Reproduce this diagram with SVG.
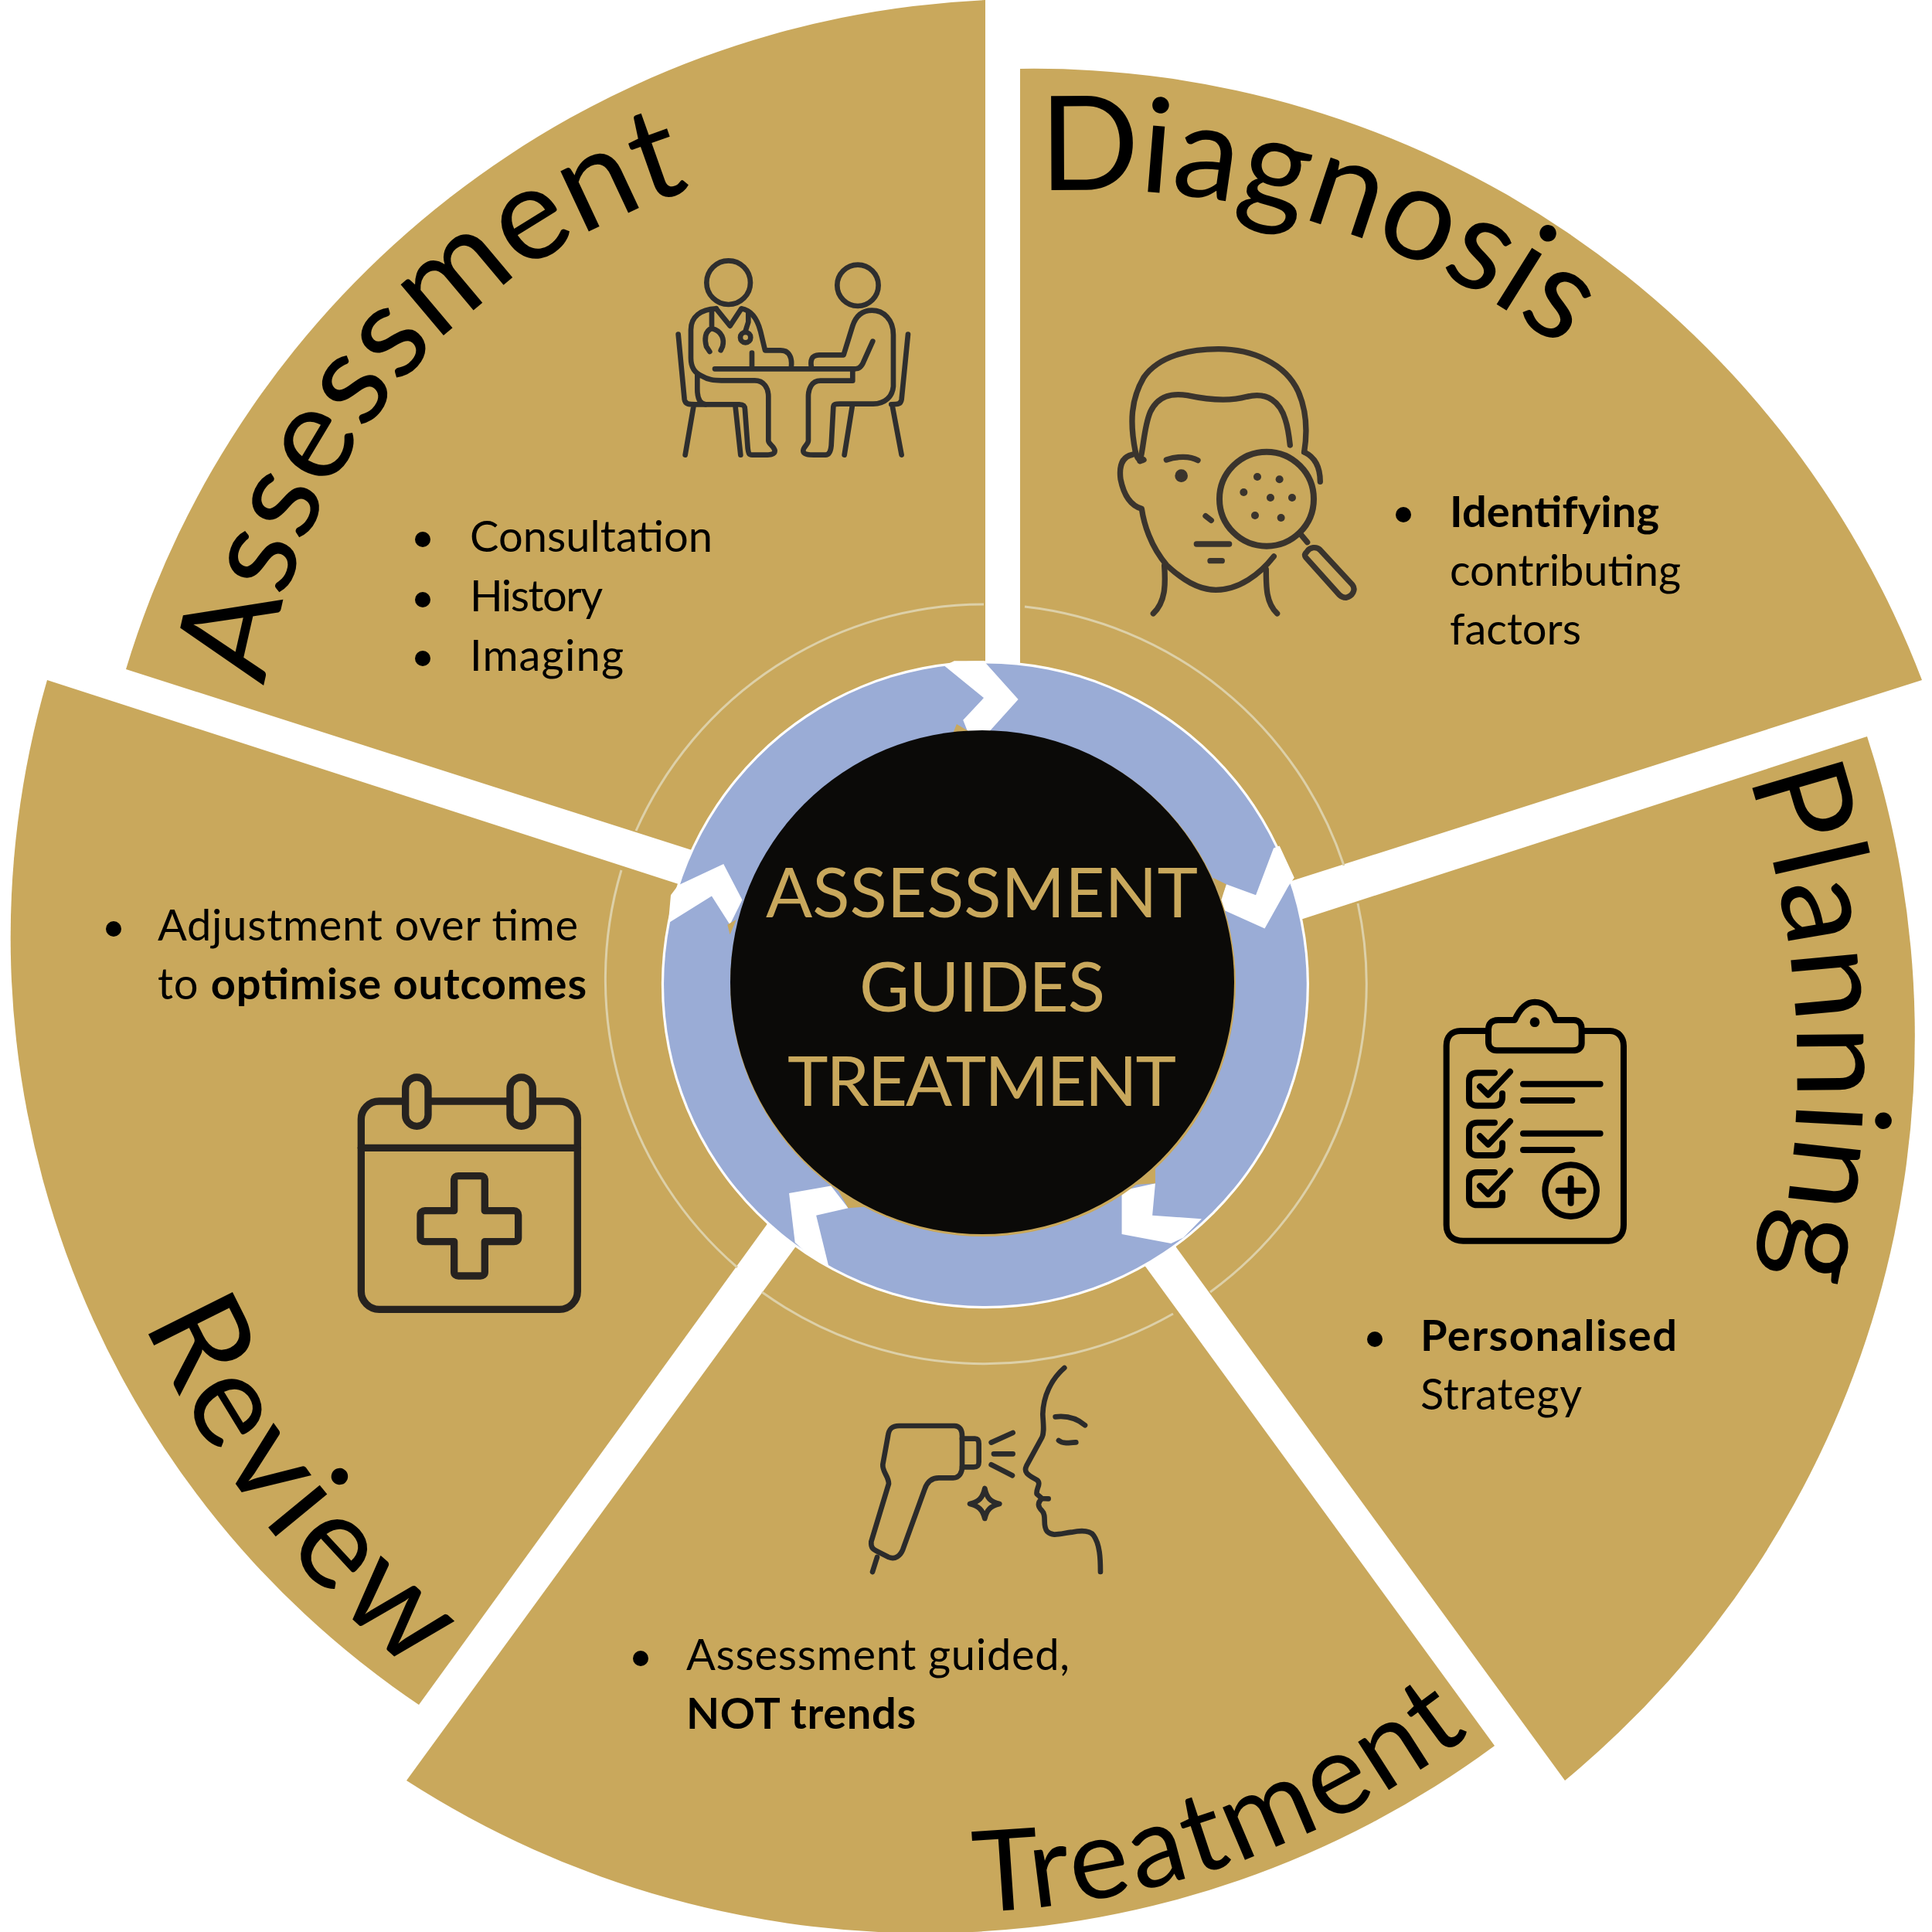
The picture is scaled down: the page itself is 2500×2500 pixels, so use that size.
<svg xmlns="http://www.w3.org/2000/svg" xmlns:xlink="http://www.w3.org/1999/xlink" width="2500" height="2500" viewBox="0 0 2500 2500">
<style>
.wedge{fill:#C9A85C}
.thin{fill:none;stroke:#DDD0A8;stroke-width:3}
.head{font-family:"Lato","Liberation Sans",sans-serif;font-size:170px;fill:#000}
.body{font-family:"Lato","Liberation Sans",sans-serif;font-size:56px;fill:#000}
.body tspan{font-weight:700}
.strong{font-weight:700}
.centre{font-family:"Lato","Liberation Sans",sans-serif;font-size:89px;fill:#C9A85C}
.ico{fill:none;stroke-linecap:round;stroke-linejoin:round}
.gap{fill:#fff}
.sliver{fill:#C9A85C}
</style>
<defs>
<path id="p-assess" d="M343,888 A800,800 0 0 1 905,242"/>
<path id="p-diag" d="M1345,248 A1000,1000 0 0 1 2050,475"/>
<path id="p-plan" d="M2262,1005 A1170,1170 0 0 1 2285,1690"/>
<path id="p-treat" d="M1262,2474 A1110,1110 0 0 0 1930,2222"/>
<path id="p-review" d="M186,1712 A1200,1200 0 0 0 570,2190"/>
</defs>

<g id="assessment">
<path class="wedge" d="M1275,0 A1220,1220 0 0 0 163,866 L892,1099 L1275,1220 Z"/>
<path class="thin" d="M1273,782 A493,493 0 0 0 823,1075"/>
<text class="head" style="letter-spacing:1px"><textPath href="#p-assess">Assessment</textPath></text>
<g class="ico" transform="translate(820 300) scale(0.3333)" stroke="#2E2E2E" stroke-width="20">
<circle cx="368" cy="197" r="85"/><circle cx="870" cy="208" r="80"/>
<path d="M320,298C260,300 222,330 222,380L222,490C222,530 240,550 265,560C290,575 310,577 340,577L470,577C505,577 523,605 523,640L523,810C523,825 545,830 548,850C548,865 530,866 510,866L460,866C445,866 445,855 443,840L432,690C432,675 425,670 410,670L280,670C255,668 247,640 247,610L247,555"/>
<path d="M320,298L374,365L418,298C460,305 480,340 492,385L510,460L570,460C605,460 615,490 612,520"/>
<path d="M303,310L303,375C275,385 275,420 282,445L295,465M303,375C345,385 352,420 345,445L338,460M445,310L445,350L434,385"/>
<circle cx="434" cy="410" r="20"/>
<path d="M315,532L850,532M459,470L459,532"/>
<path d="M850,540L850,578L725,578C690,578 678,610 678,640L678,810C678,825 658,835 658,850C658,865 680,866 700,866L745,866C760,866 765,850 767,830L775,680C776,668 785,668 800,668L930,668C975,668 1005,640 1008,600L1008,400C1008,340 970,305 925,305C880,305 860,335 850,365L815,478L720,478C690,478 685,500 690,525"/>
<path d="M928,425L890,510C880,530 870,532 850,532"/>
<path d="M173,398L197,650C200,670 215,670 240,670L280,670M232,680L200,866M395,680L415,866M1065,398L1040,650C1037,670 1025,670 1000,670M1005,680L1040,866M848,680L818,866"/>
</g>
<circle cx="547" cy="698" r="10"/><circle cx="547" cy="776" r="10"/><circle cx="547" cy="852" r="10"/>
<text class="body" x="608" y="714" textLength="314">Consultation</text>
<text class="body" x="608" y="791" textLength="172">History</text>
<text class="body" x="608" y="868" textLength="199">Imaging</text>
</g>

<g id="diagnosis">
<path class="wedge" d="M1320,89 A1230,1230 0 0 1 2487,880 L1671,1140 L1320,1240 Z"/>
<path class="thin" d="M1326,785 A493,493 0 0 1 1739,1120"/>
<text class="head"><textPath href="#p-diag">Diagnosis</textPath></text>
<g class="ico" transform="translate(1400 420) scale(0.3333)" stroke="#3A342D" stroke-width="22">
<path d="M208,495C185,380 190,290 240,205C300,120 420,95 530,95C660,95 790,150 840,260C875,340 875,420 863,495"/>
<path d="M225,530C240,480 240,400 265,340C295,275 350,265 410,275C480,290 570,300 640,280C720,260 770,300 790,370C800,400 805,440 808,468"/>
<path d="M208,495C215,520 225,535 240,525"/>
<path d="M195,505C150,515 145,560 150,600C160,650 180,700 232,715C240,770 265,860 330,935C390,990 450,1030 520,1030C610,1030 690,970 745,900"/>
<path d="M863,495C895,510 925,540 925,610"/>
<path d="M320,935C325,1010 325,1075 277,1122M715,950C715,1020 715,1080 758,1122"/>
<path d="M328,525C370,510 420,510 450,527M445,852L572,852M498,917L544,917M480,743L502,760"/>
<circle cx="386" cy="587" r="25" fill="#3A342D" stroke="none"/>
<circle cx="717" cy="677" r="183" stroke-width="24"/>
<path d="M850,815L875,845M875,880C885,865 910,860 925,875L1050,1010C1065,1030 1050,1055 1025,1060C1015,1060 1005,1055 1000,1050L870,905C862,895 865,890 875,880Z"/>
<g fill="#3A342D" stroke="none">
<circle cx="681" cy="591" r="15"/><circle cx="767" cy="601" r="15"/><circle cx="628" cy="651" r="15"/><circle cx="732" cy="672" r="15"/><circle cx="816" cy="672" r="15"/><circle cx="672" cy="741" r="15"/><circle cx="773" cy="750" r="15"/>
</g>
</g>
<circle cx="1816" cy="666" r="10"/>
<text class="body strong" x="1876" y="682" textLength="271">Identifying</text>
<text class="body" x="1876" y="758" textLength="299">contributing</text>
<text class="body" x="1876" y="834" textLength="170">factors</text>
</g>

<g id="planning">
<path class="wedge" d="M2416,953 A1250,1250 0 0 1 2025,2304 L1522,1614 L1400,1300 L1686,1189 Z"/>
<path class="thin" d="M1757,1169 A493,493 0 0 1 1566,1672"/>
<text class="head" style="letter-spacing:2px"><textPath href="#p-plan">Planning</textPath></text>
<g class="ico" transform="translate(1820 1260) scale(0.3333)" stroke="#000" stroke-width="24">
<path d="M305,222L210,222C175,222 155,245 155,280L155,975C155,1015 180,1037 220,1037L785,1037C820,1037 843,1015 843,975L843,280C843,245 820,222 790,222L692,222"/>
<path d="M420,180C440,135 465,110 498,110C535,110 565,135 578,180L650,180C670,180 680,195 680,215L680,270C680,290 665,298 645,298L350,298C330,298 318,285 318,265L318,215C318,195 330,180 355,180Z"/>
<circle cx="498" cy="188" r="19" fill="#000" stroke="none"/>
<path d="M342,385L275,385C255,385 243,395 243,415L243,485C243,500 255,512 275,512L340,512C360,512 372,500 372,480L372,465M285,438L317,470L402,380"/>
<path d="M342,578L275,578C255,578 243,588 243,608L243,678C243,693 255,705 275,705L340,705C360,705 372,693 372,673L372,658M285,631L317,663L402,573"/>
<path d="M342,771L275,771C255,771 243,781 243,801L243,871C243,886 255,898 275,898L340,898C360,898 372,886 372,866L372,851M285,824L317,856L402,766"/>
<path d="M453,428L752,428M453,492L643,492M453,620L752,620M453,684L643,684M590,842L686,842M638,795L638,890"/>
<circle cx="638" cy="842" r="100"/>
</g>
<circle cx="1779" cy="1733" r="10"/>
<text class="body strong" x="1838" y="1748" textLength="332">Personalised</text>
<text class="body" x="1838" y="1824" textLength="209">Strategy</text>
</g>

<g id="treatment">
<path class="wedge" d="M1934,2259 A1240,1240 0 0 1 526,2304 L1029,1614 L1275,1400 L1483,1640 Z"/>
<path class="thin" d="M1518,1700 A493,493 0 0 1 986,1672"/>
<text class="head" style="font-size:146px;letter-spacing:5px"><textPath href="#p-treat">Treatment</textPath></text>
<g class="ico" transform="translate(1100 1750) scale(0.3333)" stroke="#2B2B2B" stroke-width="20">
<path d="M405,285L190,285C160,285 150,300 147,325L127,435C125,465 150,480 150,510L82,735C80,760 90,765 110,775L150,795C175,805 195,790 205,765L290,530C300,500 320,487 345,487L400,487C425,487 435,465 435,445L435,325C435,300 425,285 405,285Z"/>
<path d="M435,335L485,335C498,335 500,345 500,355L500,425C500,440 495,445 480,445L435,445M105,795L87,852M548,350L632,312M558,394L632,394M548,436L630,478"/>
<path d="M523,528C530,565 545,580 580,588C545,596 530,612 523,645C515,612 500,596 465,588C500,580 515,565 523,528Z"/>
<path d="M832,60C780,105 750,170 748,240C750,280 755,310 745,330L685,440C670,470 700,480 725,495C745,510 720,530 725,550L745,567L770,568M745,567C725,585 730,600 745,615C765,635 745,670 765,695C785,715 810,705 860,698C900,690 930,690 945,710C970,745 972,800 972,852"/>
<path d="M797,250C840,245 880,255 912,283M810,342C825,355 850,352 877,349"/>
</g>
<circle cx="829" cy="2146" r="10"/>
<text class="body" x="888" y="2161" textLength="496">Assessment guided,</text>
<text class="body" x="888" y="2237" textLength="297"><tspan>NOT trends</tspan></text>
</g>

<g id="review">
<path class="wedge" d="M61,880 A1197,1197 0 0 0 542,2206 L992,1585 L1150,1300 L878,1144 Z"/>
<path class="thin" d="M954,1640 A493,493 0 0 1 804,1126"/>
<text class="head" style="letter-spacing:7px"><textPath href="#p-review">Review</textPath></text>
<g class="ico" transform="translate(440 1370) scale(0.3333)" stroke="#26221F" stroke-width="28">
<rect x="82" y="165" width="840" height="808" rx="70"/>
<path d="M82,346L922,346"/>
<rect x="254" y="72" width="88" height="190" rx="44" fill="#C9A85C"/>
<rect x="660" y="72" width="88" height="190" rx="44" fill="#C9A85C"/>
<path d="M443,590L443,470C443,460 450,455 460,455L545,455C555,455 562,460 562,470L562,590L675,590C685,590 692,597 692,607L692,695C692,705 685,710 675,710L562,710L562,828C562,838 555,843 545,843L460,843C450,843 443,838 443,828L443,710L330,710C320,710 312,705 312,695L312,607C312,597 320,590 330,590Z"/>
</g>
<circle cx="147" cy="1202" r="10"/>
<text class="body" x="204" y="1217" textLength="544">Adjustment over time</text>
<text class="body" x="204" y="1293" textLength="555">to <tspan>optimise outcomes</tspan></text>
</g>

<g id="connectors" transform="translate(750 750) scale(0.6378)">
<circle cx="823" cy="822" r="657" fill="#fff"/>
<circle cx="823" cy="822" r="652" fill="#9AACD6"/>
<polygon class="gap" points="740,175 820,240 778,285 790,315 825,315 890,243 820,165 760,165"/>
<polygon class="gap" points="1408,545 1372,640 1312,618 1295,665 1390,708 1438,622 1450,605 1420,540"/>
<polygon class="gap" points="1262,1297 1162,1290 1168,1225 1100,1240 1100,1328 1200,1347 1225,1335"/>
<polygon class="gap" points="505,1392 480,1290 545,1275 510,1230 425,1245 437,1345 470,1375"/>
<polygon class="gap" points="200,620 292,577 330,650 305,700 268,642 180,697 185,640"/>
<polygon class="sliver" points="765,293 790,308 755,318"/>
<polygon class="sliver" points="1285,605 1312,618 1302,650"/>
<polygon class="sliver" points="1168,1190 1168,1225 1118,1228"/>
<polygon class="sliver" points="525,1240 545,1275 610,1270"/>
<polygon class="sliver" points="318,690 305,720 300,700"/>
</g>

<g id="centre">
<circle cx="1272" cy="1273" r="327" fill="#C9A85C"/>
<circle cx="1271" cy="1271" r="326" fill="#0B0A08"/>
<text class="centre" x="991" y="1187" textLength="559">ASSESSMENT</text>
<text class="centre" x="1112" y="1309" textLength="318">GUIDES</text>
<text class="centre" x="1019" y="1431" textLength="503">TREATMENT</text>
</g>
</svg>
